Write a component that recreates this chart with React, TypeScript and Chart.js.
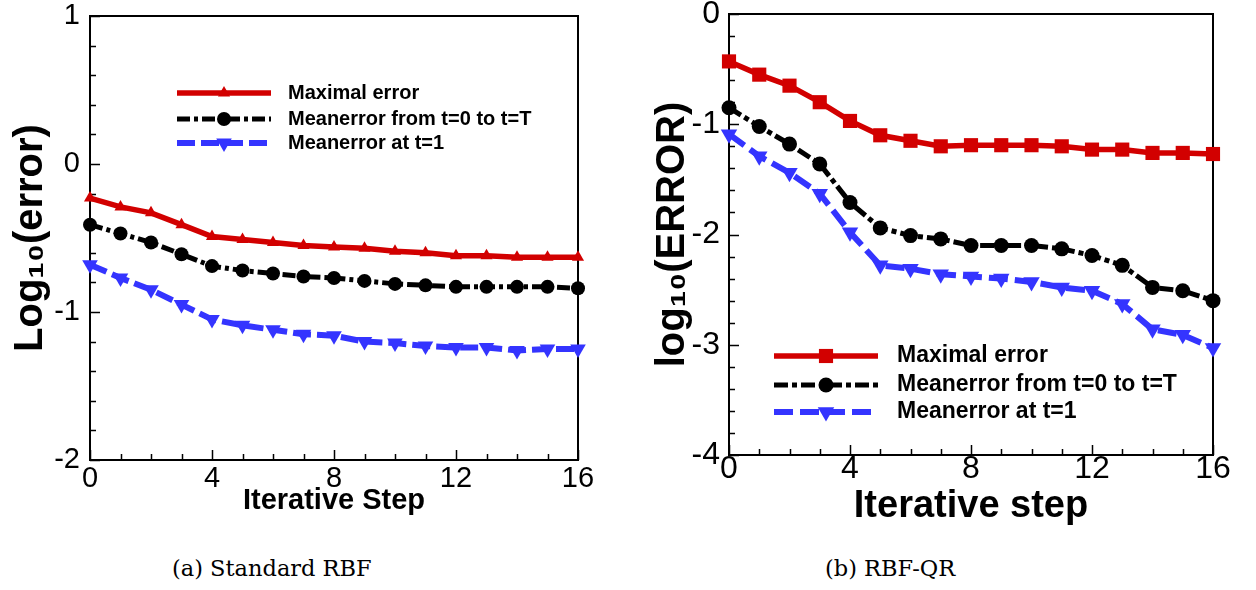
import React, { useEffect, useRef } from 'react';
import { Chart, registerables } from 'chart.js';

Chart.register(...registerables);

// ---------- data ----------
const steps = [0, 1, 2, 3, 4, 5, 6, 7, 8, 9, 10, 11, 12, 13, 14, 15, 16];

// (a) Standard RBF
const stdMaxError = [-0.23, -0.29, -0.33, -0.41, -0.49, -0.51, -0.53, -0.55, -0.56, -0.57, -0.59, -0.6, -0.62, -0.62, -0.63, -0.63, -0.63];
const stdMeanAll = [-0.41, -0.47, -0.53, -0.61, -0.69, -0.72, -0.74, -0.76, -0.77, -0.79, -0.81, -0.82, -0.83, -0.83, -0.83, -0.83, -0.84];
const stdMeanT1 = [-0.68, -0.77, -0.85, -0.95, -1.05, -1.09, -1.12, -1.15, -1.16, -1.2, -1.21, -1.23, -1.24, -1.24, -1.26, -1.25, -1.25];

// (b) RBF-QR
const qrMaxError = [-0.43, -0.55, -0.65, -0.8, -0.97, -1.1, -1.15, -1.2, -1.19, -1.19, -1.19, -1.2, -1.23, -1.23, -1.26, -1.26, -1.27];
const qrMeanAll = [-0.85, -1.02, -1.18, -1.36, -1.71, -1.94, -2.01, -2.04, -2.1, -2.1, -2.1, -2.13, -2.19, -2.28, -2.48, -2.51, -2.6];
const qrMeanT1 = [-1.09, -1.29, -1.44, -1.63, -1.98, -2.28, -2.31, -2.36, -2.38, -2.4, -2.43, -2.48, -2.51, -2.63, -2.86, -2.91, -3.03];

const seriesLabels = ['Maximal error', 'Meanerror from t=0 to t=T', 'Meanerror at t=1'];
const captions = ['(a) Standard RBF', '(b) RBF-QR'];
const xTitles = ['Iterative Step', 'Iterative step'];
const yTitles = ['Log\u2081\u2080(error)', 'log\u2081\u2080(ERROR)'];
const yRangeA = [-2, 1];
const yRangeB = [-4, 0];
const xRange = [0, 16];

// ---------- styles ----------
const RED = '#d20000';
const BLACK = '#000000';
const BLUE = '#3434ff';
const SANS = '"Liberation Sans", Arial, Helvetica, sans-serif';

function drawMarker(ctx: CanvasRenderingContext2D, style: string, x: number, y: number, r: number, rot: number, color: string) {
  ctx.save();
  ctx.fillStyle = color;
  ctx.setLineDash([]);
  ctx.beginPath();
  if (style === 'circle') {
    ctx.arc(x, y, r, 0, Math.PI * 2);
  } else if (style === 'rect') {
    const s = Math.SQRT1_2 * r;
    ctx.rect(x - s, y - s, 2 * s, 2 * s);
  } else {
    let rad = (rot * Math.PI) / 180;
    ctx.moveTo(x + Math.sin(rad) * r, y - Math.cos(rad) * r);
    rad += (2 * Math.PI) / 3;
    ctx.lineTo(x + Math.sin(rad) * r, y - Math.cos(rad) * r);
    rad += (2 * Math.PI) / 3;
    ctx.lineTo(x + Math.sin(rad) * r, y - Math.cos(rad) * r);
    ctx.closePath();
  }
  ctx.fill();
  ctx.restore();
}

type SeriesStyle = { color: string; width: number; dash: number[]; marker: string; radius: number; rot: number };

type PanelCfg = {
  left: number; top: number; w: number; h: number;
  padTop: number; padRight: number; yAxisW: number; xAxisH: number;
  yRange: number[]; xTitle: string; yTitle: string;
  tickSize: number; xTickPad: number; yTickPad: number;
  xTitleSize: number; xTitlePadBottom: number;
  yTitleSize: number; yTitlePadTop: number;
  series: number[][]; styles: SeriesStyle[];
  legend: { x0: number; x1: number; textX: number; rows: number[]; fontSize: number };
};

function buildConfig(cfg: PanelCfg): any {
  const framePlugin = {
    id: 'frameTicks',
    beforeDatasetsDraw(chart: any) {
      const { ctx, chartArea: a, scales } = chart;
      const x = scales.x;
      const y = scales.y;
      ctx.save();
      ctx.strokeStyle = '#000';
      ctx.lineWidth = 2;
      ctx.setLineDash([]);
      ctx.strokeRect(a.left, a.top, a.right - a.left, a.bottom - a.top);
      ctx.lineWidth = 1.5;
      ctx.beginPath();
      for (let v = x.min; v <= x.max + 1e-9; v += 1) {
        const px = Math.round(x.getPixelForValue(v)) + 0.5;
        const major = Math.abs(v / 4 - Math.round(v / 4)) < 1e-6;
        const len = major ? 10 : 6;
        ctx.moveTo(px, a.bottom);
        ctx.lineTo(px, a.bottom - len);
      }
      const n = Math.round((y.max - y.min) / 0.2);
      for (let i = 0; i <= n; i++) {
        const v = y.min + i * 0.2;
        const py = Math.round(y.getPixelForValue(v)) + 0.5;
        const major = i % 5 === 0;
        const len = major ? 10 : 6;
        ctx.moveTo(a.left, py);
        ctx.lineTo(a.left + len, py);
      }
      ctx.stroke();
      ctx.restore();
    },
  };

  const legendPlugin = {
    id: 'innerLegend',
    afterDraw(chart: any) {
      const { ctx, chartArea: a } = chart;
      const L = cfg.legend;
      chart.data.datasets.forEach((ds: any, i: number) => {
        const st = cfg.styles[i];
        const yy = a.top + L.rows[i];
        const x0 = a.left + L.x0;
        const x1 = a.left + L.x1;
        ctx.save();
        ctx.strokeStyle = st.color;
        ctx.lineWidth = st.width;
        ctx.setLineDash(st.dash);
        ctx.beginPath();
        ctx.moveTo(x0, yy);
        ctx.lineTo(x1, yy);
        ctx.stroke();
        ctx.restore();
        drawMarker(ctx, st.marker, (x0 + x1) / 2, yy, st.radius, st.rot, st.color);
        ctx.save();
        ctx.fillStyle = '#000';
        ctx.font = `bold ${L.fontSize}px ${SANS}`;
        ctx.textBaseline = 'middle';
        ctx.textAlign = 'left';
        ctx.fillText(ds.label, a.left + L.textX, yy);
        ctx.restore();
      });
    },
  };

  const datasets = cfg.series.map((vals, i) => {
    const st = cfg.styles[i];
    return {
      label: seriesLabels[i],
      data: steps.map((s, k) => ({ x: s, y: vals[k] })),
      borderColor: st.color,
      backgroundColor: st.color,
      borderWidth: st.width,
      borderDash: st.dash,
      pointStyle: st.marker,
      pointRadius: st.radius,
      pointHoverRadius: st.radius,
      pointRotation: st.rot,
      pointBackgroundColor: st.color,
      pointBorderColor: st.color,
      pointBorderWidth: 0,
      tension: 0,
      fill: false,
      clip: false,
    };
  });

  return {
    type: 'line',
    data: { datasets },
    options: {
      responsive: false,
      devicePixelRatio: 1,
      animation: false,
      events: [],
      layout: { padding: { top: cfg.padTop, right: cfg.padRight, left: 0, bottom: 0 } },
      plugins: { legend: { display: false }, tooltip: { enabled: false }, title: { display: false } },
      scales: {
        x: {
          type: 'linear',
          min: xRange[0],
          max: xRange[1],
          ticks: { stepSize: 4, color: '#000', font: { family: SANS, size: cfg.tickSize, lineHeight: 1 }, padding: cfg.xTickPad, maxRotation: 0 },
          grid: { display: false, drawTicks: false },
          border: { display: false },
          title: {
            display: true,
            text: cfg.xTitle,
            color: '#000',
            font: { family: SANS, size: cfg.xTitleSize, weight: 'bold', lineHeight: 1.2 },
            padding: { top: 0, bottom: cfg.xTitlePadBottom },
          },
          afterFit(s: any) {
            s.height = cfg.xAxisH;
            s.paddingLeft = 0;
            s.paddingRight = 0;
          },
        },
        y: {
          type: 'linear',
          min: cfg.yRange[0],
          max: cfg.yRange[1],
          ticks: { stepSize: 1, color: '#000', font: { family: SANS, size: cfg.tickSize, lineHeight: 1 }, padding: cfg.yTickPad },
          grid: { display: false, drawTicks: false },
          border: { display: false },
          title: {
            display: true,
            text: cfg.yTitle,
            color: '#000',
            font: { family: SANS, size: cfg.yTitleSize, weight: 'bold', lineHeight: 1.2 },
            padding: { top: cfg.yTitlePadTop, bottom: 0 },
          },
          afterFit(s: any) {
            s.width = cfg.yAxisW;
            s.paddingTop = 0;
            s.paddingBottom = 0;
          },
        },
      },
    },
    plugins: [framePlugin, legendPlugin],
  };
}

function Panel({ cfg }: { cfg: PanelCfg }) {
  const ref = useRef<HTMLCanvasElement>(null);
  useEffect(() => {
    const chart = new Chart(ref.current as HTMLCanvasElement, buildConfig(cfg));
    return () => chart.destroy();
  }, []);
  return (
    <canvas
      ref={ref}
      width={cfg.w}
      height={cfg.h}
      style={{ position: 'absolute', left: cfg.left, top: cfg.top, width: cfg.w, height: cfg.h }}
    />
  );
}

const panelA: PanelCfg = {
  left: 0, top: 0, w: 625, h: 530,
  padTop: 16, padRight: 47, yAxisW: 90, xAxisH: 70,
  yRange: yRangeA, xTitle: xTitles[0], yTitle: yTitles[0],
  tickSize: 29, xTickPad: 4, yTickPad: 10,
  xTitleSize: 29, xTitlePadBottom: 12,
  yTitleSize: 40, yTitlePadTop: 7,
  series: [stdMaxError, stdMeanAll, stdMeanT1],
  styles: [
    { color: RED, width: 5.5, dash: [], marker: 'triangle', radius: 7, rot: 0 },
    { color: BLACK, width: 5, dash: [13, 4, 4, 4], marker: 'circle', radius: 7, rot: 0 },
    { color: BLUE, width: 6, dash: [18, 6], marker: 'triangle', radius: 9, rot: 180 },
  ],
  legend: { x0: 87, x1: 181, textX: 198, rows: [77, 103, 127], fontSize: 20 },
};

const panelB: PanelCfg = {
  left: 630, top: 0, w: 626, h: 530,
  padTop: 14, padRight: 43, yAxisW: 99, xAxisH: 75,
  yRange: yRangeB, xTitle: xTitles[1], yTitle: yTitles[1],
  tickSize: 32, xTickPad: -2, yTickPad: 9,
  xTitleSize: 38, xTitlePadBottom: 1,
  yTitleSize: 40, yTitlePadTop: 19,
  series: [qrMaxError, qrMeanAll, qrMeanT1],
  styles: [
    { color: RED, width: 5.5, dash: [], marker: 'rect', radius: 10, rot: 0 },
    { color: BLACK, width: 5, dash: [14, 4, 5, 4], marker: 'circle', radius: 7.5, rot: 0 },
    { color: BLUE, width: 6, dash: [19, 7], marker: 'triangle', radius: 9.5, rot: 180 },
  ],
  legend: { x0: 45, x1: 149, textX: 168, rows: [342, 371, 398], fontSize: 23 },
};

const captionStyle: React.CSSProperties = {
  position: 'absolute',
  top: 557,
  fontFamily: '"DejaVu Serif", "Liberation Serif", serif',
  fontSize: 22.5,
  lineHeight: 1,
  whiteSpace: 'nowrap',
  color: '#000',
};

export default function App() {
  return (
    <div style={{ position: 'absolute', left: 0, top: 0, width: 1256, height: 590, background: '#fff', overflow: 'hidden' }}>
      <Panel cfg={panelA} />
      <Panel cfg={panelB} />
      <div style={{ ...captionStyle, left: 172 }}>{captions[0]}</div>
      <div style={{ ...captionStyle, left: 825 }}>{captions[1]}</div>
    </div>
  );
}
